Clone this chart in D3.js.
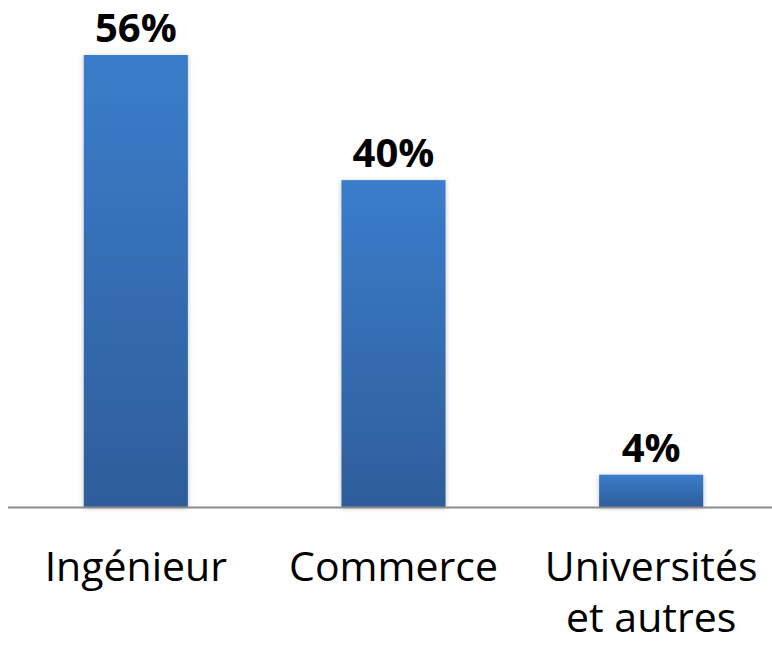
<!DOCTYPE html>
<html>
<head>
<meta charset="utf-8">
<script src="https://cdn.jsdelivr.net/npm/d3@7"></script>
<style>
  html, body { margin: 0; padding: 0; background: #fff; }
  svg { display: block; }
</style>
</head>
<body>
<script>
const categories = [["Ingénieur"], ["Commerce"], ["Universités", "et autres"]];
const values = [56, 40.5, 4];
const valueLabels = ["56%", "40%", "4%"];

const W = 772, H = 645;
const baseY = 507;

const svg = d3.select("body").append("svg").attr("width", W).attr("height", H);

const defs = svg.append("defs");
const grad = defs.append("linearGradient").attr("id", "barGrad")
  .attr("x1", 0).attr("y1", 0).attr("x2", 0).attr("y2", 1);
grad.append("stop").attr("offset", "0%").attr("stop-color", "#3b7dcb");
grad.append("stop").attr("offset", "100%").attr("stop-color", "#2e5d9a");

const filt = defs.append("filter").attr("id", "shadow")
  .attr("x", "-20%").attr("y", "-20%").attr("width", "140%").attr("height", "140%");
filt.append("feDropShadow").attr("dx", 0).attr("dy", 1).attr("stdDeviation", 2.5)
  .attr("flood-color", "#000").attr("flood-opacity", 0.25);

const x = d3.scaleBand()
  .domain(d3.range(categories.length))
  .range([7, 780])
  .paddingInner(0.596)
  .paddingOuter(0.298);

const y = d3.scaleLinear().domain([0, 56]).range([baseY, 55]);

// bars
svg.append("g").selectAll("rect")
  .data(values)
  .join("rect")
  .attr("x", (d, i) => x(i))
  .attr("width", x.bandwidth())
  .attr("y", d => y(d))
  .attr("height", d => baseY - y(d))
  .attr("fill", "url(#barGrad)")
  .attr("filter", "url(#shadow)");

// axis line
svg.append("line")
  .attr("x1", 8).attr("x2", W)
  .attr("y1", baseY + 0.5).attr("y2", baseY + 0.5)
  .attr("stroke", "#8c8c8c").attr("stroke-width", 2);

// value labels
svg.append("g").selectAll("text")
  .data(values)
  .join("text")
  .attr("x", (d, i) => x(i) + x.bandwidth() / 2)
  .attr("y", d => y(d) - 13)
  .attr("text-anchor", "middle")
  .attr("font-family", "'Open Sans', sans-serif")
  .attr("font-weight", "bold")
  .attr("font-size", 40)
  .attr("fill", "#000")
  .text((d, i) => valueLabels[i]);

// category labels
const cat = svg.append("g").selectAll("text")
  .data(categories)
  .join("text")
  .attr("x", (d, i) => x(i) + x.bandwidth() / 2)
  .attr("y", 581)
  .attr("text-anchor", "middle")
  .attr("font-family", "'Open Sans', sans-serif")
  .attr("font-size", 41)
  .attr("fill", "#000");
cat.each(function(d, i) {
  const t = d3.select(this);
  d.forEach((line, j) => {
    t.append("tspan")
      .attr("x", x(i) + x.bandwidth() / 2)
      .attr("dy", j === 0 ? 0 : 51)
      .text(line);
  });
});
</script>
</body>
</html>
